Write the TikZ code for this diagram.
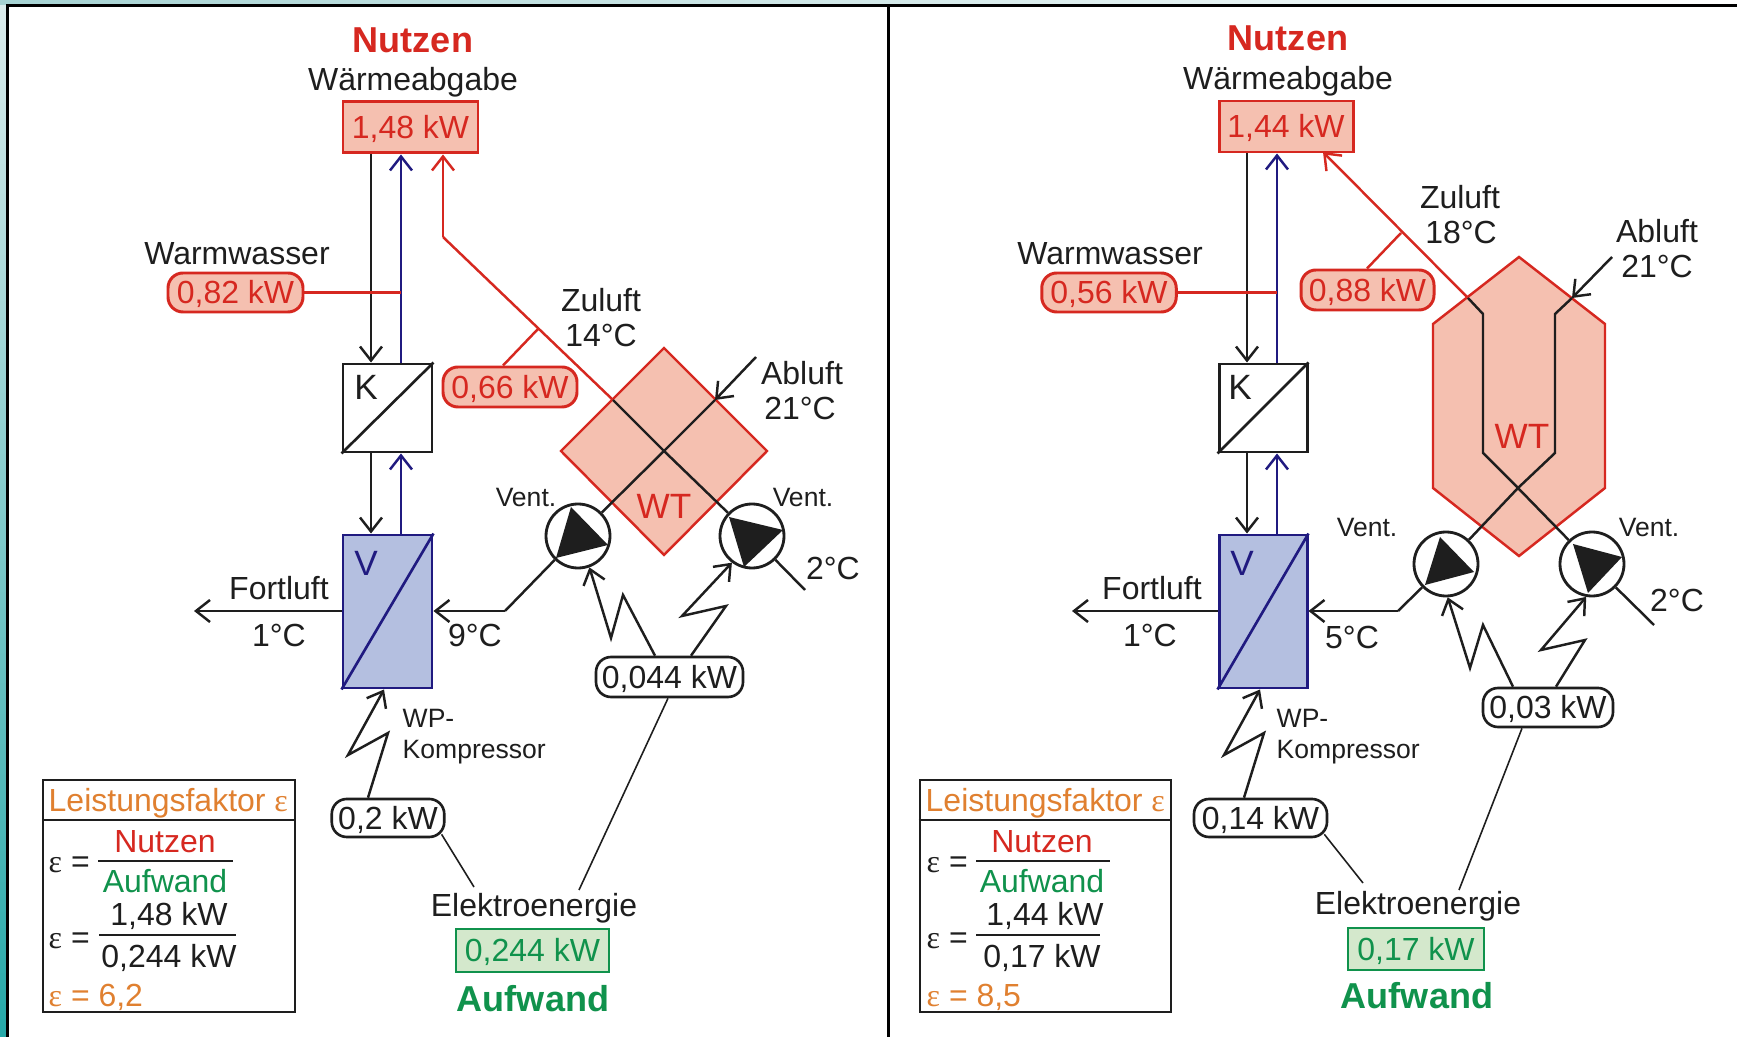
\documentclass[tikz,border=0pt]{standalone}
\usepackage{fontspec}
\setmainfont{Liberation Sans}
\newfontfamily\epsfont{Liberation Serif}
\usetikzlibrary{arrows.meta}
\definecolor{rt}{RGB}{214,40,32}
\definecolor{rs}{RGB}{245,192,176}
\definecolor{bl}{RGB}{32,26,128}
\definecolor{bs}{RGB}{180,191,224}
\definecolor{gn}{RGB}{16,146,76}
\definecolor{gs}{RGB}{212,232,204}
\definecolor{og}{RGB}{224,128,48}
\definecolor{sk}{RGB}{30,30,30}
\def\eps{{\epsfont ε}}
\tikzset{
  lab/.style={inner sep=0pt,text=sk,text height=0.23cm,text depth=0cm,font=\fontsize{9.1}{11}\selectfont},
  smalllab/.style={inner sep=0pt,text=sk,text height=0.19cm,text depth=0cm,font=\fontsize{7.55}{9}\selectfont},
  head/.style={inner sep=0pt,text height=0.26cm,text depth=0cm,font=\bfseries\fontsize{10.25}{12}\selectfont},
  letter/.style={inner sep=0pt,text height=0.25cm,text depth=0cm,font=\fontsize{10}{12}\selectfont},
  redbox/.style={draw=rt,fill=rs,text=rt,line width=0.85pt,inner sep=0pt,text height=0.23cm,text depth=0cm,font=\fontsize{9.1}{11}\selectfont},
  redpill/.style={redbox,rounded corners=1.5mm},
  blackpill/.style={draw=sk,fill=white,text=sk,line width=0.75pt,rounded corners=1.5mm,inner sep=0pt,text height=0.23cm,text depth=0cm,font=\fontsize{9.1}{11}\selectfont},
  greenbox/.style={draw=gn,fill=gs,text=gn,line width=0.8pt,inner sep=0pt,text height=0.23cm,text depth=0cm,font=\fontsize{9.1}{11}\selectfont},
  kbox/.style={draw=sk,fill=white,line width=0.85pt,inner sep=0pt},
  vbox/.style={draw=bl,fill=bs,line width=0.85pt,inner sep=0pt},
  pump/.style={circle,draw=sk,fill=white,line width=0.8pt,inner sep=0pt,minimum size=0.64cm},
  wtarea/.style={draw=rt,fill=rs,line width=0.7pt,line join=miter},
  flow/.style={line width=0.7pt,sk,-{Straight Barb[length=1.4mm,width=2.2mm]}},
  bluflow/.style={flow,bl},
  redflow/.style={flow,rt},
  pipe/.style={line width=0.7pt,sk,line join=miter},
  redpipe/.style={line width=0.7pt,rt},
  feed/.style={line width=0.45pt,sk},
  bar/.style={line width=0.7pt,sk},
  legend/.style={draw=sk,line width=0.7pt,fill=white}
}
\begin{document}
\begin{tikzpicture}[y=-1cm]
\useasboundingbox (0,0) rectangle (17.37,10.37);
% frame
\fill[white] (0,0) rectangle (17.37,10.37);
\shade[top color=black!3!white!75!teal!50!white,bottom color=teal!80!cyan!85!white] (0,0) rectangle (0.07,10.37);
\shade[left color=teal!35!white,right color=white] (0,0) rectangle (17.37,0.05);
\fill[black] (0.06,0.04) rectangle (0.085,10.37);
\fill[black] (0.06,0.04) rectangle (17.37,0.07);
\fill[black] (8.865,0.05) rectangle (8.895,10.37);

% left side
\coordinate (blackA) at (3.71,0);
\coordinate (blueA) at (4.01,0);
\coordinate (redA) at (4.43,2.37);
\coordinate (zuA) at (6.13,4.00);
\coordinate (abinA) at (7.56,3.57);
\coordinate (abA) at (7.15,4.00);
\coordinate (tapA) at (5.38,3.29);
\coordinate (midA) at (6.64,4.51);
\filldraw[wtarea] (6.64,3.48)--(7.67,4.51)--(6.64,5.55)--(5.61,4.51)--cycle;
\node[redbox,minimum width=1.35cm,minimum height=0.51cm] (nutzboxA) at (4.105,1.275) {1,48 kW};
\node[head,text=rt] (nutzA) at (4.13,0.40) {Nutzen};
\node[lab] (wabgA) at (4.13,0.79) {Wärmeabgabe};
\node[lab] (wwA) at (2.37,2.53) {Warmwasser};
\node[redpill,minimum width=1.35cm,minimum height=0.39cm] (wwpillA) at (2.355,2.925) {0,82 kW};
\node[redpill,minimum width=1.34cm,minimum height=0.40cm] (zupillA) at (5.10,3.87) {0,66 kW};
\node[kbox,minimum width=0.89cm,minimum height=0.88cm] (kA) at (3.875,4.08) {};
\node[vbox,minimum width=0.89cm,minimum height=1.53cm] (vA) at (3.875,6.115) {};
\draw[line width=0.75pt,sk] (kA.south west)--(kA.north east);
\draw[line width=0.75pt,bl] (vA.south west)--(vA.north east);
\node[letter,text=sk] (kletA) at (3.66,3.87) {K};
\node[letter,text=bl] (vletA) at (3.66,5.63) {V};
\draw[flow] (nutzboxA.south -| blackA)--(kA.north -| blackA);
\draw[bluflow] (kA.north -| blueA)--(nutzboxA.south -| blueA);
\draw[flow] (kA.south -| blackA)--(vA.north -| blackA);
\draw[bluflow] (vA.north -| blueA)--(kA.south -| blueA);
\draw[redpipe] (wwpillA.east)--(blueA |- wwpillA.east);
\draw[redpipe] (zuA)--(redA);
\draw[redflow] (redA)--(nutzboxA.south -| redA);
\draw[redpipe] (tapA)--(zupillA.north -| 5.03,0);
\node[pump] (pumpA1) at (5.78,5.36) {};
\node[pump] (pumpA2) at (7.52,5.36) {};
\fill[sk] (5.71,5.07)--(6.08,5.45)--(5.56,5.58)--cycle;
\fill[sk] (7.29,5.17)--(7.83,5.30)--(7.44,5.67)--cycle;
\draw[pipe] (zuA)--(midA)--(pumpA2);
\draw[flow] (abinA)--(abA);
\draw[pipe] (abA)--(midA)--(pumpA1);
\coordinate (fortA) at (1.94,6.11);
\coordinate (bendA) at (5.05,6.11);
\coordinate (ventoutA) at (8.05,5.90);
\draw[flow] (vA.west |- fortA)--(fortA);
\draw[pipe] (pumpA1)--(bendA);
\draw[flow] (bendA)--(vA.east |- bendA);
\draw[pipe] (ventoutA)--(pumpA2);
\node[letter,text=rt] (wtA) at (6.64,5.06) {WT};
\node[lab] (zuluftA) at (6.01,3.00) {Zuluft};
\node[lab] (zutempA) at (6.01,3.35) {14°C};
\node[lab] (abluftA) at (8.02,3.73) {Abluft};
\node[lab] (abtempA) at (8.00,4.08) {21°C};
\node[smalllab] (ventA1) at (5.26,4.97) {Vent.};
\node[smalllab] (ventA2) at (8.03,4.97) {Vent.};
\node[lab] (outtempA) at (8.33,5.68) {2°C};
\node[lab] (intempA) at (4.75,6.35) {9°C};
\node[lab] (fortlA) at (2.79,5.88) {Fortluft};
\node[lab] (fortlTA) at (2.79,6.35) {1°C};
\node[blackpill,minimum width=1.47cm,minimum height=0.40cm] (ventpillA) at (6.695,6.77) {0,044 kW};
\node[blackpill,minimum width=1.125cm,minimum height=0.38cm] (komppillA) at (3.88,8.18) {0,2 kW};
\node[smalllab,anchor=west] (wpA) at (4.02,7.18) {WP-};
\node[smalllab,anchor=west] (kompA) at (4.02,7.49) {Kompressor};
\coordinate (zzA1) at (6.55,0);
\coordinate (zzA2) at (6.91,0);
\coordinate (zzA3) at (3.68,0);
\draw[flow,line join=miter] (ventpillA.north -| zzA1)--(6.23,5.95)--(6.11,6.38)--(pumpA1.-70);
\draw[flow,line join=miter] (ventpillA.north -| zzA2)--(7.26,6.06)--(6.82,6.16)--(pumpA2.-127);
\draw[flow,line join=miter] (komppillA.north -| zzA3)--(3.88,7.33)--(3.48,7.55)--(vA.south -| 3.84,0);
\node[lab] (elekA) at (5.34,9.05) {Elektroenergie};
\node[greenbox,minimum width=1.53cm,minimum height=0.43cm] (elboxA) at (5.325,9.505) {0,244 kW};
\node[head,text=gn] (aufwA) at (5.33,9.98) {Aufwand};
\draw[feed] ([shift={(-0.04,-0.04)}]komppillA.south east)--(4.74,8.87);
\draw[feed] (ventpillA.south -| 6.68,0)--(5.79,8.90);
% legend left
\node[legend,minimum width=2.52cm,minimum height=2.32cm,anchor=north west] (legA) at (0.42,7.79) {};
\draw[bar] (legA.west |- 0,8.20)--(legA.east |- 0,8.20);
\node[lab,text=og,anchor=west] (lfA) at (0.48,8.00) {Leistungsfaktor \eps};
\node[lab,anchor=west] (eqA1) at (0.48,8.61) {\eps\ =};
\node[lab,text=rt] (nzA) at (1.65,8.41) {Nutzen};
\node[lab,text=gn] (awA) at (1.65,8.81) {Aufwand};
\draw[bar] (0.98,8.61)--(2.33,8.61);
\node[lab,anchor=west] (eqA2) at (0.48,9.37) {\eps\ =};
\node[lab] (valA1) at (1.69,9.14) {1,48 kW};
\node[lab] (valA2) at (1.69,9.56) {0,244 kW};
\draw[bar] (0.99,9.35)--(2.36,9.35);
\node[lab,text=og,anchor=west] (resA) at (0.48,9.95) {\eps\ = 6,2};

% right side
\coordinate (blackB) at (12.47,0);
\coordinate (blueB) at (12.77,0);
\coordinate (zuB) at (14.68,2.98);
\coordinate (zubB) at (14.83,3.14);
\coordinate (zucB) at (14.83,4.53);
\coordinate (midB) at (15.18,4.88);
\coordinate (abinB) at (16.12,2.57);
\coordinate (abB) at (15.72,2.98);
\coordinate (abbB) at (15.55,3.14);
\coordinate (abcB) at (15.55,4.53);
\coordinate (tapB) at (14.01,2.33);
\filldraw[wtarea] (15.19,2.57)--(16.05,3.24)--(16.05,4.88)--(15.19,5.56)--(14.33,4.88)--(14.33,3.24)--cycle;
\node[redbox,minimum width=1.34cm,minimum height=0.51cm] (nutzboxB) at (12.86,1.265) {1,44 kW};
\node[head,text=rt] (nutzB) at (12.88,0.38) {Nutzen};
\node[lab] (wabgB) at (12.88,0.78) {Wärmeabgabe};
\node[lab] (wwB) at (11.10,2.53) {Warmwasser};
\node[redpill,minimum width=1.345cm,minimum height=0.39cm] (wwpillB) at (11.09,2.925) {0,56 kW};
\node[redpill,minimum width=1.33cm,minimum height=0.40cm] (zupillB) at (13.675,2.90) {0,88 kW};
\node[kbox,minimum width=0.88cm,minimum height=0.88cm] (kB) at (12.63,4.08) {};
\node[vbox,minimum width=0.88cm,minimum height=1.53cm] (vB) at (12.63,6.115) {};
\draw[line width=0.75pt,sk] (kB.south west)--(kB.north east);
\draw[line width=0.75pt,bl] (vB.south west)--(vB.north east);
\node[letter,text=sk] (kletB) at (12.40,3.87) {K};
\node[letter,text=bl] (vletB) at (12.42,5.63) {V};
\draw[flow] (nutzboxB.south -| blackB)--(kB.north -| blackB);
\draw[bluflow] (kB.north -| blueB)--(nutzboxB.south -| blueB);
\draw[flow] (kB.south -| blackB)--(vB.north -| blackB);
\draw[bluflow] (vB.north -| blueB)--(kB.south -| blueB);
\draw[redpipe] (wwpillB.east)--(blueB |- wwpillB.east);
\draw[redflow] (zuB)--(13.23,1.52);
\draw[redpipe] (tapB)--(zupillB.north -| 13.67,0);
\node[pump] (pumpB1) at (14.46,5.64) {};
\node[pump] (pumpB2) at (15.92,5.64) {};
\fill[sk] (14.40,5.37)--(14.74,5.72)--(14.25,5.85)--cycle;
\fill[sk] (15.73,5.44)--(16.22,5.57)--(15.88,5.93)--cycle;
\draw[pipe] (zuB)--(zubB)--(zucB)--(midB)--(pumpB2);
\draw[flow] (abinB)--(abB);
\draw[pipe] (abB)--(abbB)--(abcB)--(midB)--(pumpB1);
\coordinate (fortB) at (10.72,6.11);
\coordinate (bendB) at (13.98,6.11);
\coordinate (ventoutB) at (16.54,6.25);
\draw[flow] (vB.west |- fortB)--(fortB);
\draw[pipe] (pumpB1)--(bendB);
\draw[flow] (bendB)--(vB.east |- bendB);
\draw[pipe] (ventoutB)--(pumpB2);
\node[letter,text=rt] (wtB) at (15.22,4.36) {WT};
\node[lab] (zuluftB) at (14.60,1.97) {Zuluft};
\node[lab] (zutempB) at (14.61,2.32) {18°C};
\node[lab] (abluftB) at (16.57,2.31) {Abluft};
\node[lab] (abtempB) at (16.57,2.66) {21°C};
\node[smalllab] (ventB1) at (13.67,5.27) {Vent.};
\node[smalllab] (ventB2) at (16.49,5.27) {Vent.};
\node[lab] (outtempB) at (16.77,6.00) {2°C};
\node[lab] (intempB) at (13.52,6.37) {5°C};
\node[lab] (fortlB) at (11.52,5.88) {Fortluft};
\node[lab] (fortlTB) at (11.50,6.35) {1°C};
\node[blackpill,minimum width=1.30cm,minimum height=0.39cm] (ventpillB) at (15.48,7.075) {0,03 kW};
\node[blackpill,minimum width=1.33cm,minimum height=0.38cm] (komppillB) at (12.605,8.18) {0,14 kW};
\node[smalllab,anchor=west] (wpB) at (12.76,7.18) {WP-};
\node[smalllab,anchor=west] (kompB) at (12.76,7.49) {Kompressor};
\coordinate (zzB1) at (15.13,0);
\coordinate (zzB2) at (15.56,0);
\coordinate (zzB3) at (12.44,0);
\draw[flow,line join=miter] (ventpillB.north -| zzB1)--(14.83,6.25)--(14.70,6.68)--(pumpB1.-87);
\draw[flow,line join=miter] (ventpillB.north -| zzB2)--(15.85,6.40)--(15.41,6.50)--(pumpB2.-100);
\draw[flow,line join=miter] (komppillB.north -| zzB3)--(12.64,7.33)--(12.24,7.55)--(vB.south -| 12.60,0);
\node[lab] (elekB) at (14.18,9.03) {Elektroenergie};
\node[greenbox,minimum width=1.36cm,minimum height=0.42cm] (elboxB) at (14.16,9.49) {0,17 kW};
\node[head,text=gn] (aufwB) at (14.17,9.95) {Aufwand};
\draw[feed] ([shift={(-0.04,-0.04)}]komppillB.south east)--(13.63,8.83);
\draw[feed] (ventpillB.south -| 15.22,0)--(14.59,8.90);
% legend right
\node[legend,minimum width=2.515cm,minimum height=2.32cm,anchor=north west] (legB) at (9.185,7.79) {};
\draw[bar] (legB.west |- 0,8.20)--(legB.east |- 0,8.20);
\node[lab,text=og,anchor=west] (lfB) at (9.25,8.00) {Leistungsfaktor \eps};
\node[lab,anchor=west] (eqB1) at (9.26,8.61) {\eps\ =};
\node[lab,text=rt] (nzB) at (10.42,8.41) {Nutzen};
\node[lab,text=gn] (awB) at (10.42,8.81) {Aufwand};
\draw[bar] (9.76,8.61)--(11.10,8.61);
\node[lab,anchor=west] (eqB2) at (9.26,9.37) {\eps\ =};
\node[lab] (valB1) at (10.45,9.14) {1,44 kW};
\node[lab] (valB2) at (10.42,9.56) {0,17 kW};
\draw[bar] (9.76,9.35)--(11.00,9.35);
\node[lab,text=og,anchor=west] (resB) at (9.26,9.95) {\eps\ = 8,5};
\end{tikzpicture}
\end{document}
